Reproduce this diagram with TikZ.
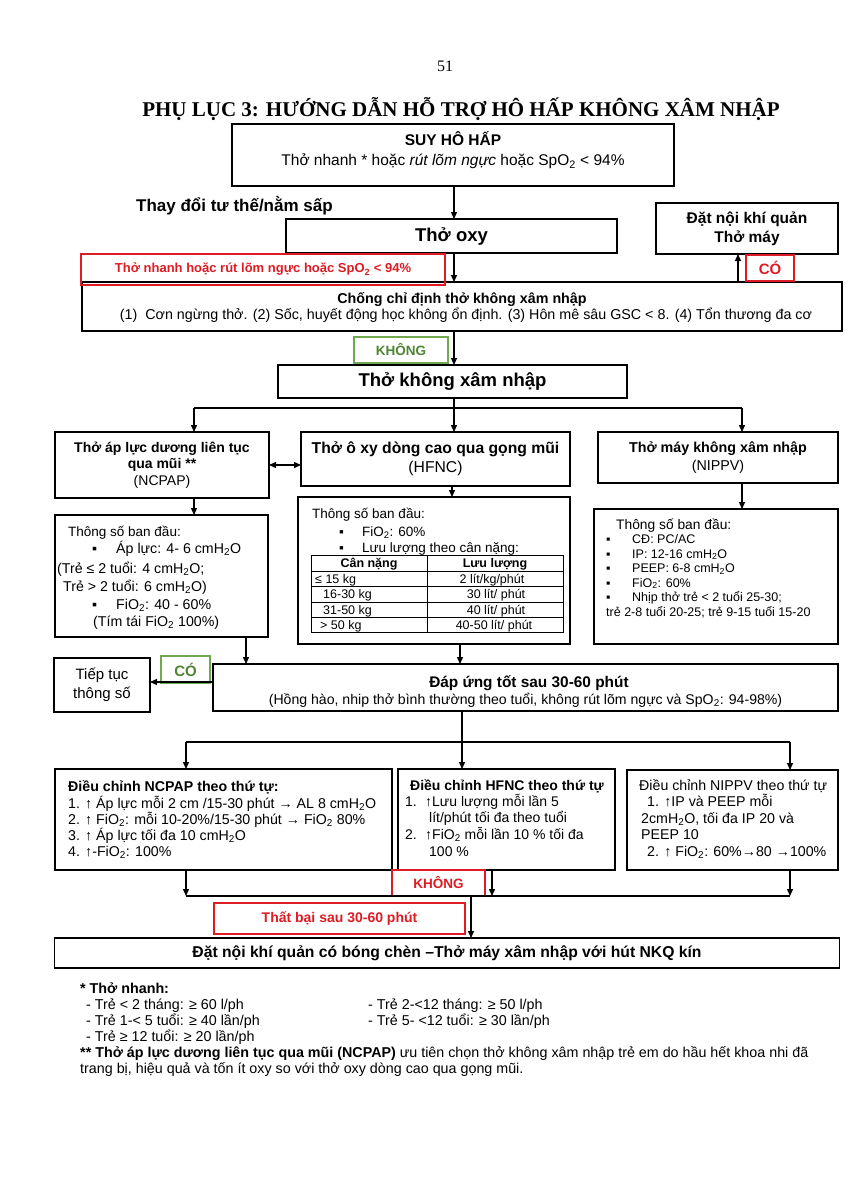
\documentclass[tikz,border=0pt]{standalone}
\usepackage{fontspec}
\setmainfont{Liberation Sans}
\newfontfamily\timesf{Liberation Serif}
\usetikzlibrary{arrows.meta}
\definecolor{myred}{RGB}{222,28,36}
\definecolor{mygreen}{RGB}{80,132,50}
\definecolor{mygreenb}{RGB}{112,168,80}
\newcommand\fsz[2]{\fontsize{#1pt}{#2pt}\selectfont}
\newcommand\sbt[1]{\textsubscript{#1}}
\tikzset{
 bx/.style={draw, line width=1.6pt, inner sep=0pt, outer sep=0pt, align=center},
 rbx/.style={draw=myred, line width=1.1pt, inner sep=0pt, outer sep=0pt, text=myred, align=center},
 gbx/.style={draw=mygreenb, line width=1.1pt, inner sep=0pt, outer sep=0pt, text=mygreen, align=center},
 tx/.style={anchor=base west, inner sep=0pt},
 txc/.style={anchor=base, inner sep=0pt},
 arr/.style={line width=1.3pt, -{Triangle[length=7pt,width=6pt]}},
 darr/.style={line width=1.3pt, {Triangle[length=7pt,width=6pt]}-{Triangle[length=7pt,width=6pt]}},
 ln/.style={line width=1.3pt},
 tbl/.style={line width=0.6pt},
}
\begin{document}
\begin{tikzpicture}[x=1pt,y=-1pt]
\useasboundingbox (0,0) rectangle (848,1200);
\fill[white] (0,0) rectangle (848,1200);

% reference coordinates
\coordinate (X454) at (454,0);
\coordinate (X452) at (452,0);
\coordinate (X738) at (738,0);
\coordinate (X194) at (194,0);
\coordinate (X742) at (742,0);
\coordinate (X246) at (246,0);
\coordinate (X460) at (460,0);
\coordinate (X462) at (462,0);
\coordinate (X186) at (186,0);
\coordinate (X492) at (492,0);
\coordinate (X790) at (790,0);
\coordinate (X471) at (471,0);
\coordinate (Y465) at (0,465);
\coordinate (Y682) at (0,682);

% header
\node[txc, font=\timesf\fsz{16}{19}] (pnum) at (445,71) {51};
\node[txc, font=\timesf\bfseries\fsz{21}{25}] (title) at (461,116) {PHỤ LỤC 3: HƯỚNG DẪN HỖ TRỢ HÔ HẤP KHÔNG XÂM NHẬP};

% SUY HO HAP
\node[bx, minimum width=442pt, minimum height=62pt] (suy) at (453,155) {};
\node[txc, font=\bfseries\fsz{15.5}{18}] (suyt1) at (453,145.5) {SUY HÔ HẤP};
\node[txc, font=\fsz{15.5}{18}] (suyt2) at (453,165.5) {Thở nhanh * hoặc \textit{rút lõm ngực} hoặc SpO\sbt{2} < 94\%};

\node[tx, font=\bfseries\fsz{17}{20}] (tdtt) at (136,211) {Thay đổi tư thế/nằm sấp};

\node[bx, minimum width=331pt, minimum height=34pt, font=\bfseries\fsz{18.5}{22}] (oxy) at (451.5,236) {Thở oxy};
\node[bx, minimum width=182pt, minimum height=51pt, font=\bfseries\fsz{15.5}{19}] (dnkq) at (747,228.5) {Đặt nội khí quản\\Thở máy};

\node[bx, minimum width=760pt, minimum height=49pt] (ccd) at (462,306.5) {};
\node[txc, font=\bfseries\fsz{14.3}{17}] (ccdt1) at (462,303) {Chống chỉ định thở không xâm nhập};
\node[txc, font=\fsz{14.3}{17}] (ccdt2) at (466,319) {(1)\ \ Cơn ngừng thở. (2) Sốc, huyết động học không ổn định. (3) Hôn mê sâu GSC < 8. (4) Tổn thương đa cơ};

\node[rbx, minimum width=364pt, minimum height=31pt, font=\bfseries\fsz{13}{15}] (rb1) at (263,269.5) {Thở nhanh hoặc rút lõm ngực hoặc SpO\sbt{2} < 94\%};
\node[rbx, minimum width=48pt, minimum height=26pt, font=\bfseries\fsz{15}{18}] (rbco) at (770,268) {CÓ};

\node[gbx, minimum width=94pt, minimum height=26pt, font=\bfseries\fsz{13.5}{16}] (gk1) at (401,350) {KHÔNG};

\node[bx, minimum width=349pt, minimum height=33pt, font=\bfseries\fsz{18.5}{22}] (tkxn) at (452.5,381.5) {Thở không xâm nhập};

% three modes
\node[bx, minimum width=214pt, minimum height=66pt, font=\fsz{14}{16.5}] (ncp) at (162,465) {\textbf{Thở áp lực dương liên tục}\\\textbf{qua mũi **}\\(NCPAP)};
\node[bx, minimum width=269pt, minimum height=54pt, font=\fsz{15.7}{19}] (hfnc) at (435.5,459) {\textbf{Thở ô xy dòng cao qua gọng mũi}\\(HFNC)};
\node[bx, minimum width=240pt, minimum height=51pt, font=\fsz{14.3}{18}] (nippv) at (718,457.5) {\textbf{Thở máy không xâm nhập}\\(NIPPV)};

% parameter boxes
\node[bx, minimum width=213pt, minimum height=122pt] (ncpp) at (161.5,576) {};
\node[tx, font=\fsz{13.5}{16}] (ncpp1) at (68,536) {Thông số ban đầu:};
\node[tx, font=\fsz{14.2}{16}] (ncpp2b) at (92,553) {▪};
\node[tx, font=\fsz{14.2}{16}] (ncpp2) at (116,553) {Áp lực: 4- 6 cmH\sbt{2}O};
\node[tx, font=\fsz{14.2}{16}] (ncpp3) at (57,573) {(Trẻ ≤ 2 tuổi: 4 cmH\sbt{2}O;};
\node[tx, font=\fsz{14.2}{16}] (ncpp4) at (63,591) {Trẻ > 2 tuổi: 6 cmH\sbt{2}O)};
\node[tx, font=\fsz{14.2}{16}] (ncpp5b) at (92,609) {▪};
\node[tx, font=\fsz{14.2}{16}] (ncpp5) at (116,609) {FiO\sbt{2}: 40 - 60\%};
\node[tx, font=\fsz{14.2}{16}] (ncpp6) at (93,626) {(Tím tái FiO\sbt{2} 100\%)};

\node[bx, minimum width=272pt, minimum height=147pt] (hfncp) at (434,570.5) {};
\node[tx, font=\fsz{13.5}{16}] (hfncp1) at (312,518) {Thông số ban đầu:};
\node[tx, font=\fsz{13.5}{16}] (hfncp2b) at (339,536) {▪};
\node[tx, font=\fsz{13.5}{16}] (hfncp2) at (362,536) {FiO\sbt{2}: 60\%};
\node[tx, font=\fsz{13.5}{16}] (hfncp3b) at (339,552) {▪};
\node[tx, font=\fsz{13.5}{16}] (hfncp3) at (362,552) {Lưu lượng theo cân nặng:};
\draw[tbl] (311,555) rectangle (563,632);
\foreach \yy in {571,586.5,602,617} \draw[tbl] (311,\yy) -- (563,\yy);
\draw[tbl] (427,555) -- (427,632);
\node[txc, font=\bfseries\fsz{12.5}{15}] (th1) at (369,567.5) {Cân nặng};
\node[txc, font=\bfseries\fsz{12.5}{15}] (th2) at (495,567.5) {Lưu lượng};
\node[tx, font=\fsz{12.5}{15}] (r1a) at (315,583) {≤ 15 kg};
\node[txc, font=\fsz{12.5}{15}] (r1b) at (492,583) {2 lít/kg/phút};
\node[tx, font=\fsz{12.5}{15}] (r2a) at (323,598.5) {16-30 kg};
\node[txc, font=\fsz{12.5}{15}] (r2b) at (496,598.5) {30 lít/ phút};
\node[tx, font=\fsz{12.5}{15}] (r3a) at (323,614) {31-50 kg};
\node[txc, font=\fsz{12.5}{15}] (r3b) at (496,614) {40 lít/ phút};
\node[tx, font=\fsz{12.5}{15}] (r4a) at (320,629) {> 50 kg};
\node[txc, font=\fsz{12.5}{15}] (r4b) at (494,629) {40-50 lít/ phút};

\node[bx, minimum width=244pt, minimum height=135pt] (nippvp) at (716,576.5) {};
\node[tx, font=\fsz{13.8}{16}] (nip1) at (616,529) {Thông số ban đầu:};
\node[tx, font=\fsz{12.5}{15}] (nip2b) at (606,543.5) {▪};
\node[tx, font=\fsz{12.5}{15}] (nip2) at (632,543.5) {CĐ: PC/AC};
\node[tx, font=\fsz{12.5}{15}] (nip3b) at (606,558) {▪};
\node[tx, font=\fsz{12.5}{15}] (nip3) at (632,558) {IP: 12-16 cmH\sbt{2}O};
\node[tx, font=\fsz{12.5}{15}] (nip4b) at (606,572.5) {▪};
\node[tx, font=\fsz{12.5}{15}] (nip4) at (632,572.5) {PEEP: 6-8 cmH\sbt{2}O};
\node[tx, font=\fsz{12.5}{15}] (nip5b) at (606,587) {▪};
\node[tx, font=\fsz{12.5}{15}] (nip5) at (632,587) {FiO\sbt{2}: 60\%};
\node[tx, font=\fsz{12.5}{15}] (nip6b) at (606,601.5) {▪};
\node[tx, font=\fsz{12.5}{15}] (nip6) at (632,601.5) {Nhịp thở trẻ < 2 tuổi 25-30;};
\node[tx, font=\fsz{12.5}{15}] (nip7) at (606,616) {trẻ 2-8 tuổi 20-25; trẻ 9-15 tuổi 15-20};

% response
\node[bx, minimum width=625pt, minimum height=47pt] (dau) at (525.5,687.5) {};
\node[txc, font=\bfseries\fsz{15.4}{18}] (daut1) at (529,687.5) {Đáp ứng tốt sau 30-60 phút};
\node[txc, font=\fsz{14.1}{17}] (daut2) at (525.5,704) {(Hồng hào, nhip thở bình thường theo tuổi, không rút lõm ngực và SpO\sbt{2}: 94-98\%)};
\node[bx, minimum width=96pt, minimum height=54pt, font=\fsz{15}{19}] (ttts) at (102,685) {Tiếp tục\\thông số};
\node[gbx, minimum width=49pt, minimum height=27pt, font=\bfseries\fsz{15}{18}] (gco) at (185.5,669.5) {CÓ};

% adjustment boxes
\node[bx, minimum width=337pt, minimum height=101pt] (dcn) at (223.5,819.5) {};
\node[tx, font=\bfseries\fsz{14.2}{17}] (dcn0) at (68,791) {Điều chỉnh NCPAP theo thứ tự:};
\node[tx, font=\fsz{14.2}{17}] (dcn1n) at (68,808) {1.};
\node[tx, font=\fsz{14.2}{17}] (dcn1) at (85,808) {↑ Áp lực mỗi 2 cm /15-30 phút → AL 8 cmH\sbt{2}O};
\node[tx, font=\fsz{14.2}{17}] (dcn2n) at (68,824) {2.};
\node[tx, font=\fsz{14.2}{17}] (dcn2) at (85,824) {↑ FiO\sbt{2}: mỗi 10-20\%/15-30 phút → FiO\sbt{2} 80\%};
\node[tx, font=\fsz{14.2}{17}] (dcn3n) at (68,840) {3.};
\node[tx, font=\fsz{14.2}{17}] (dcn3) at (85,840) {↑ Áp lực tối đa 10 cmH\sbt{2}O};
\node[tx, font=\fsz{14.2}{17}] (dcn4n) at (68,856) {4.};
\node[tx, font=\fsz{14.2}{17}] (dcn4) at (85,856) {↑-FiO\sbt{2}: 100\%};

\node[bx, minimum width=217pt, minimum height=101pt] (dch) at (506.5,819.5) {};
\node[txc, font=\bfseries\fsz{14}{17}] (dch0) at (507,790) {Điều chỉnh HFNC theo thứ tự};
\node[tx, font=\fsz{14}{17}] (dch1n) at (405,806) {1.};
\node[tx, font=\fsz{14}{17}] (dch1) at (425,806) {↑Lưu lượng mỗi lần 5};
\node[tx, font=\fsz{14}{17}] (dch1c) at (429,822) {lít/phút tối đa theo tuổi};
\node[tx, font=\fsz{14}{17}] (dch2n) at (405,839) {2.};
\node[tx, font=\fsz{14}{17}] (dch2) at (425,839) {↑FiO\sbt{2} mỗi lần 10 \% tối đa};
\node[tx, font=\fsz{14}{17}] (dch2c) at (429,856) {100 \%};

\node[bx, minimum width=211pt, minimum height=100pt] (dni) at (732.5,820) {};
\node[tx, font=\fsz{14.2}{17}] (dni0) at (639,790) {Điều chỉnh NIPPV theo thứ tự};
\node[tx, font=\fsz{14.2}{17}] (dni1) at (647,806) {1. ↑IP và PEEP mỗi};
\node[tx, font=\fsz{14.2}{17}] (dni2) at (641,823) {2cmH\sbt{2}O, tối đa IP 20 và};
\node[tx, font=\fsz{14.2}{17}] (dni3) at (641,839) {PEEP 10};
\node[tx, font=\fsz{14.2}{17}] (dni4) at (647,856) {2. ↑ FiO\sbt{2}: 60\%→80 →100\%};

\node[rbx, minimum width=93pt, minimum height=26pt, font=\bfseries\fsz{13.5}{16}] (rk2) at (438.5,883) {KHÔNG};
\node[rbx, minimum width=251pt, minimum height=31pt, font=\bfseries\fsz{14}{17}] (tb) at (339.5,918.5) {Thất bại sau 30-60 phút};
\node[bx, minimum width=785pt, minimum height=30pt, font=\bfseries\fsz{15.7}{18}] (fin) at (447,953) {Đặt nội khí quản có bóng chèn –Thở máy xâm nhập với hút NKQ kín};

% connectors
\draw[arr] (suy.south -| X454) -- (oxy.north -| X454);
\draw[arr] (oxy.south -| X454) -- (ccd.north -| X454);
\draw[arr] (ccd.north -| X738) -- (dnkq.south -| X738);
\draw[arr] (ccd.south -| X454) -- (tkxn.north -| X454);
\coordinate (B1L) at (194,408);
\coordinate (B1M) at (454,408);
\coordinate (B1R) at (742,408);
\draw[ln] (tkxn.south -| X454) -- (B1M);
\draw[ln] (B1L) -- (B1R);
\draw[arr] (B1L) -- (ncp.north -| B1L);
\draw[arr] (B1M) -- (hfnc.north -| B1M);
\draw[arr] (B1R) -- (nippv.north -| B1R);
\draw[darr] (ncp.east |- Y465) -- (hfnc.west |- Y465);
\draw[arr] (ncp.south -| X194) -- (ncpp.north -| X194);
\draw[arr] (hfnc.south -| X452) -- (hfncp.north -| X452);
\draw[arr] (nippv.south -| X742) -- (nippvp.north -| X742);
\draw[arr] (ncpp.south -| X246) -- (dau.north -| X246);
\draw[arr] (hfncp.south -| X460) -- (dau.north -| X460);
\draw[arr] (dau.west |- Y682) -- (ttts.east |- Y682);
\coordinate (B2L) at (186,742);
\coordinate (B2M) at (462,742);
\coordinate (B2R) at (790,742);
\draw[ln] (dau.south -| X462) -- (B2M);
\draw[ln] (B2L) -- (B2R);
\draw[arr] (B2L) -- (dcn.north -| B2L);
\draw[arr] (B2M) -- (dch.north -| B2M);
\draw[arr] (B2R) -- (dni.north -| B2R);
\coordinate (B3L) at (186,896);
\coordinate (B3M) at (492,896);
\coordinate (B3R) at (790,896);
\coordinate (B3C) at (471,896);
\draw[arr] (dcn.south -| X186) -- (B3L);
\draw[arr] (dch.south -| X492) -- (B3M);
\draw[arr] (dni.south -| X790) -- (B3R);
\draw[ln] (B3L) -- (B3R);
\draw[arr] (B3C) -- (fin.north -| B3C);

% footnotes
\node[tx, font=\bfseries\fsz{14.3}{16}] (f1) at (80,993) {* Thở nhanh:};
\node[tx, font=\fsz{14.3}{16}] (f2a) at (86,1009) {- Trẻ < 2 tháng: ≥ 60 l/ph};
\node[tx, font=\fsz{14.3}{16}] (f2b) at (368,1009) {- Trẻ 2-<12 tháng: ≥ 50 l/ph};
\node[tx, font=\fsz{14.3}{16}] (f3a) at (86,1025) {- Trẻ 1-< 5 tuổi: ≥ 40 lần/ph};
\node[tx, font=\fsz{14.3}{16}] (f3b) at (368,1025) {- Trẻ 5- <12 tuổi: ≥ 30 lần/ph};
\node[tx, font=\fsz{14.3}{16}] (f4) at (86,1041) {- Trẻ ≥ 12 tuổi: ≥ 20 lần/ph};
\node[tx, font=\fsz{14.3}{16}] (f5) at (80,1057) {\textbf{** Thở áp lực dương liên tục qua mũi (NCPAP)} ưu tiên chọn thở không xâm nhập trẻ em do hầu hết khoa nhi đã};
\node[tx, font=\fsz{14.3}{16}] (f6) at (80,1073) {trang bị, hiệu quả và tốn ít oxy so với thở oxy dòng cao qua gọng mũi.};
\end{tikzpicture}
\end{document}
